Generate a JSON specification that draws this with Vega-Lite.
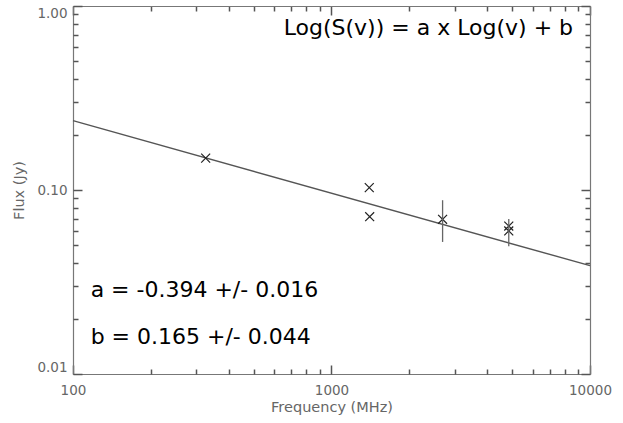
{
  "$schema": "https://vega.github.io/schema/vega-lite/v6.json",
  "width": 517,
  "height": 368,
  "autosize": {"type": "none"},
  "padding": {"left": 73, "top": 6, "right": 33, "bottom": 49},
  "background": "white",
  "config": {
    "view": {"stroke": null},
    "axis": {"grid": false, "domainColor": "#777", "tickColor": "#555", "domainWidth": 1.2, "tickWidth": 1.5, "labelColor": "#666", "titleColor": "#666", "labelFont": "DejaVu Sans", "titleFont": "DejaVu Sans", "labelFontSize": 13.5, "titleFontSize": 14.5, "titleFontWeight": "normal"}
  },
  "datasets": {
    "fit": [{"freq": 100, "flux": 0.2382}, {"freq": 10000, "flux": 0.0388}],
    "points": [
      {"freq": 326, "flux": 0.149},
      {"freq": 1400, "flux": 0.103},
      {"freq": 1405, "flux": 0.0716},
      {"freq": 2690, "flux": 0.0693},
      {"freq": 4850, "flux": 0.0637},
      {"freq": 4850, "flux": 0.0599}
    ],
    "errors": [
      {"freq": 2690, "low": 0.0522, "high": 0.088},
      {"freq": 4850, "low": 0.0495, "high": 0.0695}
    ],
    "eq": [{"freq": 8600, "flux": 0.695, "label": "Log(S(v)) = a x Log(v) + b"}],
    "ab": [
      {"freq": 117, "flux": 0.0261, "label": "a = -0.394 +/- 0.016"},
      {"freq": 117, "flux": 0.01456, "label": "b = 0.165 +/- 0.044"}
    ]
  },
  "resolve": {"scale": {"x": "shared", "y": "shared"}, "axis": {"x": "independent", "y": "independent"}},
  "layer": [
    {
      "data": {"name": "fit"},
      "mark": {"type": "line", "color": "#555", "strokeWidth": 1.4},
      "encoding": {
        "x": {"field": "freq", "type": "quantitative", "scale": {"type": "log", "domain": [100, 10000], "nice": false},
              "axis": {"orient": "bottom", "values": [100, 1000, 10000], "format": "d", "ticks": false, "labelPadding": 9, "title": "Frequency (MHz)", "titlePadding": 4, "labelFlush": false}},
        "y": {"field": "flux", "type": "quantitative", "scale": {"type": "log", "domain": [0.01, 1], "nice": false},
              "axis": {"orient": "left", "values": [0.01, 0.1, 1], "format": ".2f", "ticks": false, "labelPadding": 6, "title": "Flux (Jy)", "titlePadding": 10, "labelFlush": true}}
      }
    },
    {
      "data": {"name": "points"},
      "mark": {"type": "point", "shape": "M-1,-1L1,1M-1,1L1,-1", "filled": false, "stroke": "#222", "strokeWidth": 1.2, "size": 80, "opacity": 1},
      "encoding": {
        "x": {"field": "freq", "type": "quantitative", "axis": {"orient": "bottom", "values": [100, 1000, 10000], "labels": false, "domain": false, "tickSize": 9, "offset": -9, "title": null}},
        "y": {"field": "flux", "type": "quantitative", "axis": {"orient": "left", "values": [0.01, 0.1, 1], "labels": false, "domain": false, "tickSize": 9, "offset": -9, "title": null}}
      }
    },
    {
      "data": {"name": "errors"},
      "mark": {"type": "rule", "color": "#666", "strokeWidth": 1.3},
      "encoding": {
        "x": {"field": "freq", "type": "quantitative", "axis": {"orient": "bottom", "values": [200, 300, 400, 500, 600, 700, 800, 900, 2000, 3000, 4000, 5000, 6000, 7000, 8000, 9000], "labels": false, "domain": false, "tickSize": 5, "offset": -5, "title": null}},
        "y": {"field": "low", "type": "quantitative", "axis": {"orient": "left", "values": [0.02, 0.03, 0.04, 0.05, 0.06, 0.07, 0.08, 0.09, 0.2, 0.3, 0.4, 0.5, 0.6, 0.7, 0.8, 0.9], "labels": false, "domain": false, "tickSize": 5, "offset": -5, "title": null}},
        "y2": {"field": "high"}
      }
    },
    {
      "data": {"name": "eq"},
      "mark": {"type": "text", "align": "right", "baseline": "alphabetic", "font": "DejaVu Sans", "fontSize": 22, "color": "#000"},
      "encoding": {
        "x": {"field": "freq", "type": "quantitative", "axis": {"orient": "top", "values": [100, 1000, 10000], "labels": false, "domain": false, "tickSize": 9, "offset": -9, "title": null}},
        "y": {"field": "flux", "type": "quantitative", "axis": {"orient": "right", "values": [0.01, 0.1, 1], "labels": false, "domain": false, "tickSize": 9, "offset": -9, "title": null}},
        "text": {"field": "label"}
      }
    },
    {
      "data": {"name": "ab"},
      "mark": {"type": "text", "align": "left", "baseline": "alphabetic", "font": "DejaVu Sans", "fontSize": 22, "color": "#000"},
      "encoding": {
        "x": {"field": "freq", "type": "quantitative", "axis": {"orient": "top", "values": [200, 300, 400, 500, 600, 700, 800, 900, 2000, 3000, 4000, 5000, 6000, 7000, 8000, 9000], "labels": false, "domain": false, "tickSize": 5, "offset": -5, "title": null}},
        "y": {"field": "flux", "type": "quantitative", "axis": {"orient": "right", "values": [0.02, 0.03, 0.04, 0.05, 0.06, 0.07, 0.08, 0.09, 0.2, 0.3, 0.4, 0.5, 0.6, 0.7, 0.8, 0.9], "labels": false, "domain": false, "tickSize": 5, "offset": -5, "title": null}},
        "text": {"field": "label"}
      }
    },
    {
      "data": {"name": "fit"},
      "mark": {"type": "line", "opacity": 0},
      "encoding": {
        "x": {"field": "freq", "type": "quantitative", "axis": {"orient": "top", "ticks": false, "labels": false, "domain": true, "title": null}},
        "y": {"field": "flux", "type": "quantitative", "axis": {"orient": "right", "ticks": false, "labels": false, "domain": true, "title": null}}
      }
    }
  ]
}
